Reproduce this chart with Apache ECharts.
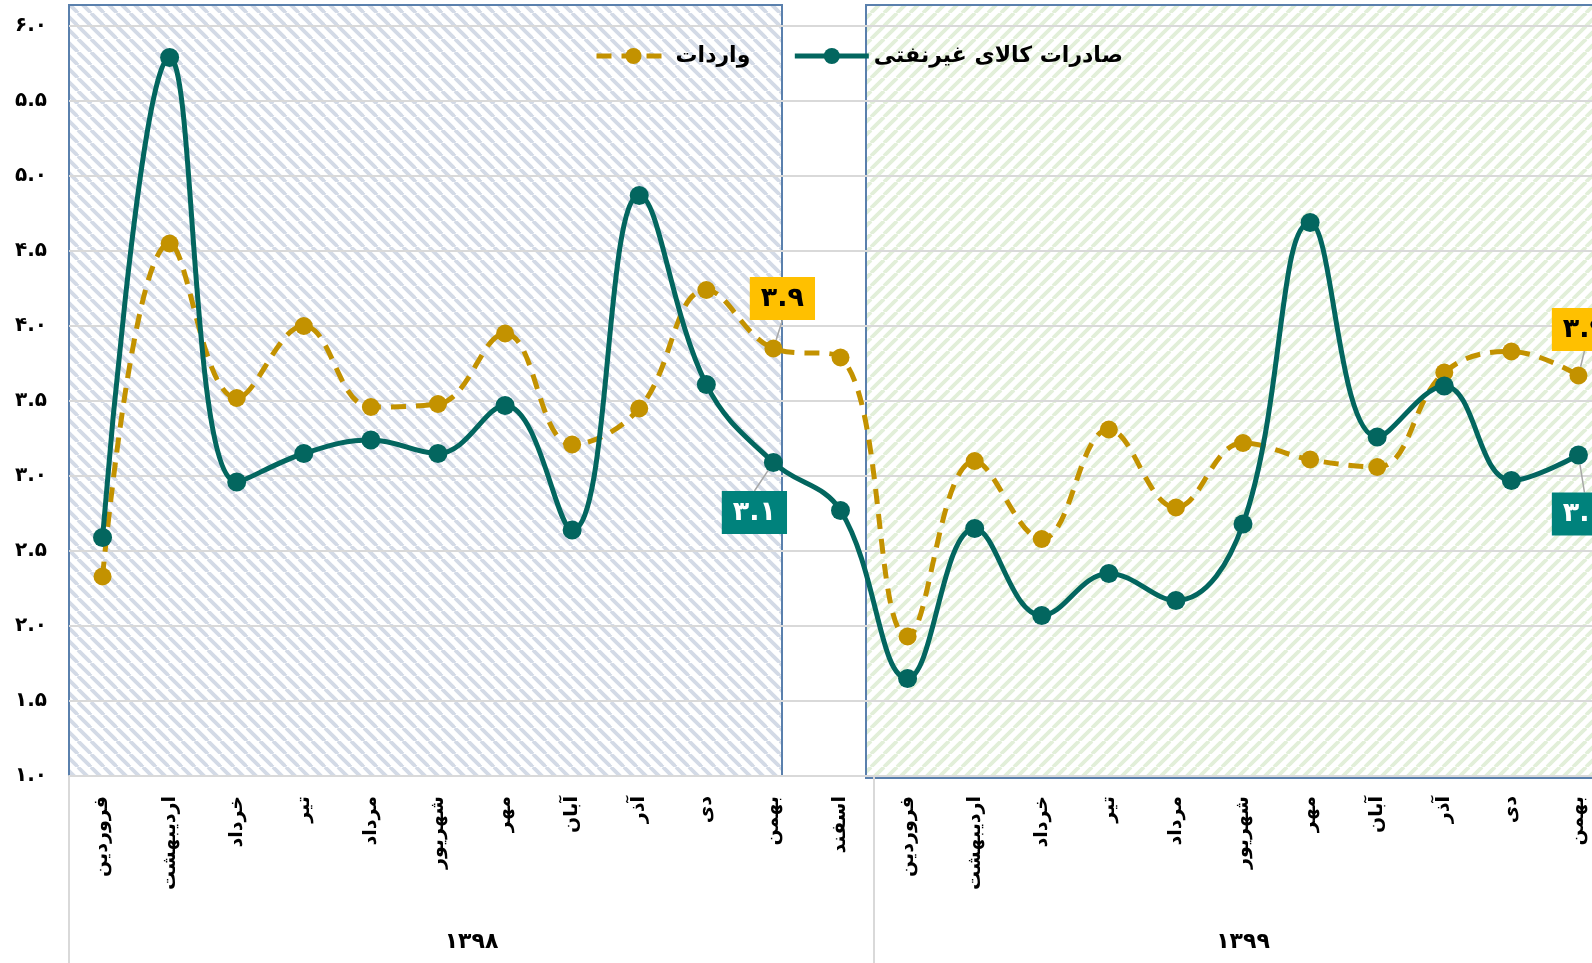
<!DOCTYPE html>
<html>
<head>
<meta charset="utf-8">
<script src="https://cdn.jsdelivr.net/npm/echarts@6/dist/echarts.min.js"></script>
<style>
  html, body { margin: 0; padding: 0; background: #fff; overflow: hidden; }
  #chart { width: 1660px; height: 963px; }
</style>
</head>
<body>
<div id="chart"></div>
<script>
// ماه‌ها (۱۳۹۸: ۱۲ ماه، ۱۳۹۹: ۱۱ ماه)
const months98 = ['فروردین', 'اردیبهشت', 'خرداد', 'تیر', 'مرداد', 'شهریور', 'مهر', 'آبان', 'آذر', 'دی', 'بهمن', 'اسفند'];
const months99 = ['فروردین', 'اردیبهشت', 'خرداد', 'تیر', 'مرداد', 'شهریور', 'مهر', 'آبان', 'آذر', 'دی', 'بهمن'];
const years = ['۱۳۹۸', '۱۳۹۹'];

const exportName = 'صادرات کالای غیرنفتی';
const importName = 'واردات';

const exportsData = [2.59, 5.79, 2.96, 3.15, 3.24, 3.15, 3.47, 2.64, 4.87, 3.61, 3.09, 2.77,
                     1.65, 2.65, 2.07, 2.35, 2.17, 2.68, 4.69, 3.26, 3.60, 2.97, 3.14];
const importsData = [2.33, 4.55, 3.52, 4.00, 3.46, 3.48, 3.95, 3.21, 3.45, 4.24, 3.85, 3.79,
                     1.93, 3.10, 2.58, 3.31, 2.79, 3.22, 3.11, 3.06, 3.69, 3.83, 3.67];

// برچسب‌های داده (بهمن هر سال)
const labelIdx = [10, 22];
const exportLabels = ['3.1', '3.1'];
const importLabels = ['3.9', '3.9'];

const categories = months98.concat(months99);
const toFa = s => String(s).replace(/\d/g, d => '۰۱۲۳۴۵۶۷۸۹'[d]);

const FONT = "'DejaVu Sans', sans-serif";
const TEAL = '#03665f';
const GOLD = '#c39200';

function hatch(color, down) {
  const s = 13;
  const c = document.createElement('canvas');
  c.width = s; c.height = s;
  const ctx = c.getContext('2d');
  ctx.fillStyle = '#fff';
  ctx.fillRect(0, 0, s, s);
  ctx.strokeStyle = color;
  ctx.lineWidth = 3.8;
  for (let k = -1; k <= 1; k++) {
    ctx.beginPath();
    if (down) { ctx.moveTo(k * s, 0); ctx.lineTo(k * s + s, s); }
    else { ctx.moveTo(k * s, s); ctx.lineTo(k * s + s, 0); }
    ctx.stroke();
  }
  return c;
}

// محل جعبه برچسب نسبت به نقطه
const exportShift = [[-19, 50], [6, 59]];
const importShift = [[9, -50], [6, -46]];

function buildData(values, texts, bg, fg) {
  return values.map((v, i) => {
    const k = labelIdx.indexOf(i);
    if (k < 0) return v;
    return {
      value: v,
      label: {
        show: true,
        position: 'inside',
        formatter: toFa(texts[k]),
        backgroundColor: bg,
        color: fg,
        fontFamily: FONT,
        fontWeight: 'bold',
        fontSize: 27,
        padding: [9, 11, 7, 11]
      }
    };
  });
}

const chart = echarts.init(document.getElementById('chart'), null, { renderer: 'canvas' });

const option = {
  animation: false,
  backgroundColor: '#fff',
  graphic: [
    {
      type: 'rect', z: -10,
      shape: { x: 69, y: 5, width: 713, height: 771 },
      style: { fill: { image: hatch('#d3dae6', true), repeat: 'repeat' }, stroke: '#5a80ad', lineWidth: 2 }
    },
    {
      type: 'rect', z: -10,
      shape: { x: 866, y: 5, width: 800, height: 773 },
      style: { fill: { image: hatch('#e2efd9', false), repeat: 'repeat' }, stroke: '#5a80ad', lineWidth: 2 }
    }
  ],
  legend: {
    left: 589,
    top: 40,
    itemWidth: 74,
    itemHeight: 20,
    itemGap: 42,
    data: [importName, exportName],
    lineStyle: { width: 5 },
    textStyle: { fontFamily: FONT, fontWeight: 'bold', fontSize: 22, color: '#000' }
  },
  grid: { left: 69, top: 26, width: 1543, height: 750, outerBoundsMode: 'none' },
  xAxis: [
    {
      type: 'category',
      data: categories,
      boundaryGap: true,
      axisLine: { show: true, lineStyle: { color: '#d9d9d9', width: 2 } },
      axisTick: { show: false },
      axisLabel: {
        interval: 0,
        rotate: 90,
        margin: 20,
        color: '#000',
        fontFamily: FONT,
        fontWeight: 'bold',
        fontSize: 19
      },
      splitLine: { show: false }
    },
    {
      type: 'value',
      position: 'bottom',
      min: 0,
      max: 23,
      axisLine: { show: false },
      splitLine: { show: false },
      axisTick: {
        show: true,
        customValues: [0, 12, 23],
        length: 190,
        lineStyle: { color: '#d9d9d9', width: 2 }
      },
      axisLabel: {
        customValues: [6, 17.5],
        margin: 155,
        formatter: v => (v < 12 ? years[0] : years[1]),
        color: '#000',
        fontFamily: FONT,
        fontWeight: 'bold',
        fontSize: 22
      }
    }
  ],
  yAxis: {
    type: 'value',
    min: 1,
    max: 6,
    interval: 0.5,
    axisLine: { show: false },
    axisTick: { show: false },
    splitLine: { lineStyle: { color: '#d9d9d9', width: 2 } },
    axisLabel: {
      margin: 22,
      formatter: v => toFa(v.toFixed(1)),
      color: '#000',
      fontFamily: FONT,
      fontWeight: 'bold',
      fontSize: 20
    }
  },
  series: [
    {
      name: importName,
      type: 'line',
      smooth: 0.4,
      data: buildData(importsData, importLabels, '#ffc000', '#000'),
      symbol: 'circle',
      symbolSize: 18,
      itemStyle: { color: GOLD },
      lineStyle: { color: GOLD, width: 5, type: [15, 10] },
      labelLayout: p => {
        const k = labelIdx.indexOf(p.dataIndex);
        return k < 0 ? {} : { dx: importShift[k][0], dy: importShift[k][1] };
      },
      labelLine: { show: true, lineStyle: { color: '#a6a6a6', width: 1.5 } }
    },
    {
      name: exportName,
      type: 'line',
      smooth: 0.4,
      data: buildData(exportsData, exportLabels, '#00827c', '#fff'),
      symbol: 'circle',
      symbolSize: 19,
      itemStyle: { color: TEAL },
      lineStyle: { color: TEAL, width: 5 },
      labelLayout: p => {
        const k = labelIdx.indexOf(p.dataIndex);
        return k < 0 ? {} : { dx: exportShift[k][0], dy: exportShift[k][1] };
      },
      labelLine: { show: true, lineStyle: { color: '#a6a6a6', width: 1.5 } }
    }
  ]
};

chart.setOption(option);
</script>
</body>
</html>
